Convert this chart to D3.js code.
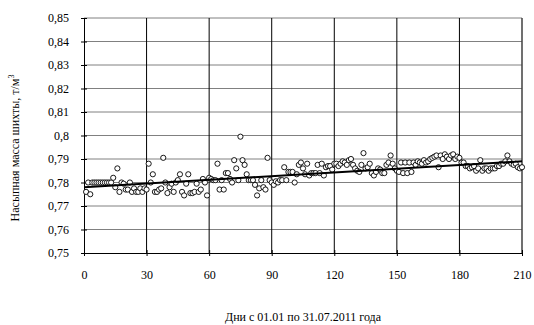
<!DOCTYPE html>
<html>
<head>
<meta charset="utf-8">
<script src="https://cdn.jsdelivr.net/npm/d3@7/dist/d3.min.js"></script>
<style>
  body { margin: 0; background: #fff; }
  text { font-family: "Liberation Serif", "Times New Roman", serif; fill: #000; }
</style>
</head>
<body>
<div id="chart"></div>
<script>
const xTicks = [0, 30, 60, 90, 120, 150, 180, 210];
const yTicks = [0.75, 0.76, 0.77, 0.78, 0.79, 0.80, 0.81, 0.82, 0.83, 0.84, 0.85];
const xTitle = 'Дни с 01.01 по 31.07.2011 года';
const yTitle = 'Насыпная масса шихты, т/м';

// bulk density by day, days 1..210
const density = [
  0.776, 0.780, 0.775, 0.780, 0.780, 0.780, 0.780, 0.780, 0.780, 0.780,
  0.780, 0.780, 0.780, 0.782, 0.778, 0.786, 0.776, 0.780, 0.7795, 0.777,
  0.777, 0.780, 0.776, 0.7775, 0.776, 0.776, 0.7775, 0.776, 0.7775, 0.777,
  0.788, 0.780, 0.7835, 0.776, 0.776, 0.777, 0.7775, 0.7905, 0.780, 0.7755,
  0.778, 0.7795, 0.776, 0.780, 0.781, 0.7835, 0.776, 0.7745, 0.7795, 0.7835,
  0.7755, 0.7755, 0.776, 0.7795, 0.776, 0.777, 0.7815, 0.780, 0.7745, 0.782,
  0.7815, 0.781, 0.781, 0.788, 0.777, 0.781, 0.777, 0.784, 0.784, 0.7815,
  0.780, 0.7895, 0.786, 0.781, 0.7995, 0.7895, 0.7875, 0.7835, 0.781, 0.781,
  0.781, 0.779, 0.7745, 0.7775, 0.781, 0.778, 0.777, 0.7905, 0.781, 0.780,
  0.779, 0.7805, 0.780, 0.781, 0.781, 0.7865, 0.781, 0.7845, 0.7845, 0.7845,
  0.780, 0.7835, 0.7875, 0.7885, 0.786, 0.7835, 0.788, 0.783, 0.784, 0.784,
  0.784, 0.7875, 0.784, 0.788, 0.783, 0.7865, 0.787, 0.787, 0.7855, 0.788,
  0.788, 0.787, 0.788, 0.789, 0.7885, 0.7875, 0.7895, 0.790, 0.7875, 0.786,
  0.785, 0.7845, 0.7875, 0.7925, 0.786, 0.7865, 0.788, 0.784, 0.783, 0.7845,
  0.786, 0.7855, 0.784, 0.784, 0.7875, 0.7885, 0.7915, 0.788, 0.786, 0.785,
  0.7845, 0.7885, 0.784, 0.7885, 0.784, 0.7885, 0.7845, 0.7885, 0.7875, 0.789,
  0.7885, 0.788, 0.7895, 0.7885, 0.789, 0.790, 0.7905, 0.791, 0.7915, 0.7865,
  0.7915, 0.790, 0.792, 0.791, 0.790, 0.7915, 0.792, 0.790, 0.791, 0.7905,
  0.7885, 0.7885, 0.787, 0.787, 0.786, 0.7865, 0.787, 0.785, 0.786, 0.7895,
  0.785, 0.786, 0.786, 0.785, 0.786, 0.786, 0.786, 0.787, 0.787, 0.788,
  0.788, 0.789, 0.7915, 0.789, 0.788, 0.7875, 0.788, 0.7865, 0.786, 0.7865
];
const days = density.map((d, i) => i + 1);

// linear trend as drawn in the source (value at day 0 and day 210)
const trendStart = 0.778;
const trendEnd = 0.789;

const width = 534;
const height = 325;
const margin = { top: 18, right: 12, bottom: 72, left: 84 };
const serif = '"Liberation Serif", "Times New Roman", serif';

const svg = d3.select('#chart')
  .append('svg')
  .attr('width', width)
  .attr('height', height);

const x = d3.scaleLinear()
  .domain([0, 210])
  .range([margin.left, width - margin.right]);

const y = d3.scaleLinear()
  .domain([0.75, 0.85])
  .range([height - margin.bottom, margin.top]);

const fmt = d => String(+d.toFixed(2)).replace('.', ',');

// horizontal grid
svg.append('g')
  .selectAll('line')
  .data(yTicks.slice(1))
  .enter()
  .append('line')
  .attr('x1', x(0))
  .attr('x2', x(210))
  .attr('y1', d => y(d))
  .attr('y2', d => y(d))
  .attr('stroke', '#808080')
  .attr('stroke-width', 1);

// vertical grid
svg.append('g')
  .selectAll('line')
  .data(xTicks.slice(1))
  .enter()
  .append('line')
  .attr('x1', d => x(d))
  .attr('x2', d => x(d))
  .attr('y1', y(0.85))
  .attr('y2', y(0.75))
  .attr('stroke', d => d === 210 ? '#404040' : '#000')
  .attr('stroke-width', d => d === 210 ? 1.5 : 1);

// axes
const yAxis = svg.append('g')
  .attr('transform', `translate(${x(0)},0)`)
  .call(d3.axisLeft(y).tickValues(yTicks).tickFormat(fmt).tickSizeInner(3).tickSizeOuter(0).tickPadding(12));
yAxis.selectAll('.tick line').attr('x2', 3).attr('x1', -3);

const xAxis = svg.append('g')
  .attr('transform', `translate(0,${y(0.75)})`)
  .call(d3.axisBottom(x).tickValues(xTicks).tickSizeInner(3).tickSizeOuter(0).tickPadding(14));
xAxis.selectAll('.tick line').attr('y1', -3).attr('y2', 3);

[yAxis, xAxis].forEach(a => {
  a.attr('font-family', serif).attr('font-size', 12);
  a.select('.domain').attr('stroke', '#000');
  a.selectAll('.tick line').attr('stroke', '#000');
  a.selectAll('text').attr('fill', '#000');
});

// points
svg.append('g')
  .selectAll('circle')
  .data(days)
  .enter()
  .append('circle')
  .attr('cx', d => x(d))
  .attr('cy', (d, i) => y(density[i]))
  .attr('r', 2.6)
  .attr('fill', '#fff')
  .attr('stroke', '#000')
  .attr('stroke-width', 0.9);

// trend line
svg.append('line')
  .attr('x1', x(0))
  .attr('x2', x(210))
  .attr('y1', y(trendStart))
  .attr('y2', y(trendEnd))
  .attr('stroke', '#000')
  .attr('stroke-width', 2);

// titles
svg.append('text')
  .attr('x', 303)
  .attr('y', 321)
  .attr('text-anchor', 'middle')
  .attr('font-family', serif)
  .attr('font-size', 12)
  .text(xTitle);

const yt = svg.append('text')
  .attr('transform', 'translate(19,148) rotate(-90)')
  .attr('text-anchor', 'middle')
  .attr('font-family', serif)
  .attr('font-size', 12);
yt.append('tspan').text(yTitle);
yt.append('tspan').attr('dy', -5).attr('font-size', 8).text('3');
</script>
</body>
</html>
